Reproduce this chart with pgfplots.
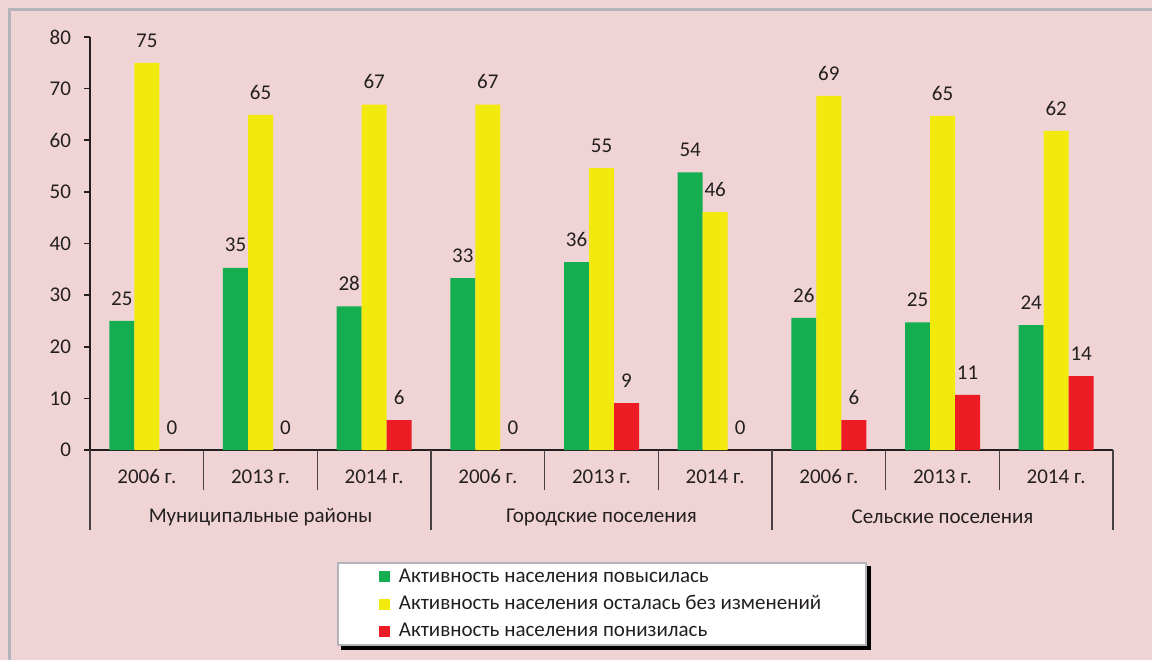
\documentclass[border=0pt]{standalone}
\usepackage{fontspec}
\setmainfont{Carlito}
\usepackage{pgfplots}
\pgfplotsset{compat=1.18}
\pgfdeclarelayer{bottom}
\pgfdeclarelayer{shadow}
\pgfsetlayers{bottom,shadow,main}
\definecolor{bgc}{RGB}{240,212,213}
\definecolor{framec}{RGB}{178,180,186}
\definecolor{cgreen}{RGB}{20,173,80}
\definecolor{cyellow}{RGB}{242,234,12}
\definecolor{cred}{RGB}{237,28,36}
\definecolor{txt}{RGB}{35,31,32}
\definecolor{sepc}{RGB}{70,66,67}
\newcommand{\fs}{\fontsize{10.5}{12.5}\selectfont}
\begin{document}
\begin{tikzpicture}[x=0.5pt,y=0.5pt]
\begin{pgfonlayer}{bottom}
\path[use as bounding box, fill=bgc] (0,0) rectangle (1152,660);
\draw[framec, line width=1.5pt] (9.5,0) -- (9.5,650.5) -- (1152,650.5);
\end{pgfonlayer}
\begin{axis}[
  at={(45pt,105pt)}, anchor=south west,
  scale only axis, width=511.5pt, height=206.5pt,
  xmin=-0.5, xmax=8.5, ymin=0, ymax=80,
  clip=false,
  ybar=0pt, bar width=12.5pt,
  axis x line=bottom, axis y line=left,
  axis line style={-, line width=1pt, txt},
  xtick={0,...,8},
  xticklabels={2006 г.,2013 г.,2014 г.,2006 г.,2013 г.,2014 г.,2006 г.,2013 г.,2014 г.},
  x tick style={draw=none},
  ytick={0,10,...,80},
  y tick style={line width=0.8pt, txt},
  tick align=outside, major tick length=3pt,
  /pgf/number format/assume math mode=true,
  tick label style={font=\fs, text=txt},
  xticklabel style={yshift=-3pt, text height=7pt, text depth=0pt},
  yticklabel style={xshift=-3pt},
  nodes near coords={\pgfmathprintnumber[fixed,precision=0,assume math mode=true]{\pgfplotspointmeta}},
  nodes near coords style={font=\fs, text=txt, yshift=4.3pt},
  legend style={
    name=leg,
    at={(0.5005,-0.3729)}, anchor=center,
    font=\fs, text=txt,
    draw=framec, line width=1pt, fill=white,
    inner xsep=20.5pt, inner ysep=0.3pt, row sep=0pt,
    nodes={text height=7.6pt, text depth=2pt, inner ysep=2pt},
    /tikz/every odd column/.append style={column sep=2.5pt},
  },
  legend cell align=left,
  legend image code/.code={\fill[#1] (0pt,-2.75pt) rectangle (5.5pt,2.75pt);},
]
\addplot[fill=cgreen, draw=none] coordinates {(0,25) (1,35.3) (2,27.8) (3,33.3) (4,36.4) (5,53.8) (6,25.6) (7,24.7) (8,24.2)};
\addplot[fill=cyellow, draw=none] coordinates {(0,75) (1,64.9) (2,66.9) (3,66.9) (4,54.6) (5,46.1) (6,68.6) (7,64.7) (8,61.8)};
\addplot[fill=cred, draw=none] coordinates {(0,0) (1,0) (2,5.8) (3,0) (4,9.1) (5,0) (6,5.8) (7,10.7) (8,14.3)};
\legend{Активность населения повысилась, Активность населения осталась без изменений, Активность населения понизилась}
\foreach \xx in {0.5,1.5,3.5,4.5,6.5,7.5} {
  \edef\tmp{\noexpand\draw[sepc, line width=0.75pt] (axis cs:\xx,0) -- ++(0pt,-20pt);}\tmp
}
\foreach \xx in {-0.5,2.5,5.5,8.5} {
  \edef\tmp{\noexpand\draw[sepc, line width=0.75pt] (axis cs:\xx,0) -- ++(0pt,-40pt);}\tmp
}
\node[text=txt, font=\fs, yshift=-33.5pt] at (axis cs:1,0) {Муниципальные районы};
\node[text=txt, font=\fs, yshift=-33.5pt] at (axis cs:4,0) {Городские поселения};
\node[text=txt, font=\fs, yshift=-33.5pt] at (axis cs:7,0) {Сельские поселения};
\end{axis}
\begin{pgfonlayer}{shadow}
\fill[black] ([xshift=2pt,yshift=-2pt]leg.south west) rectangle ([xshift=2pt,yshift=-2pt]leg.north east);
\end{pgfonlayer}
\end{tikzpicture}
\end{document}
